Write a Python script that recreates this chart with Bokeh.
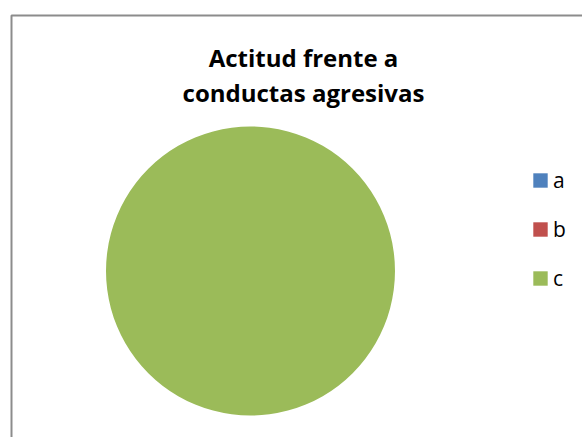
import numpy as np
from bokeh.plotting import figure
from bokeh.models import ColumnDataSource, Range1d, Label, Legend, LegendItem
from bokeh.embed import file_html
from bokeh.resources import INLINE

# Data
categories = ["a", "b", "c"]
values = [0, 0, 100]
colors = ["#4F81BD", "#C0504D", "#9BBB59"]
title_lines = ["Actitud frente a", "conductas agresivas"]

W, H = 582, 437
p = figure(width=W, height=H, output_backend="svg", toolbar_location=None,
           x_range=Range1d(0, W), y_range=Range1d(0, H),
           min_border=0, min_border_left=0, min_border_right=0,
           min_border_top=0, min_border_bottom=0)
p.axis.visible = False
p.grid.visible = False
p.outline_line_color = None
p.background_fill_color = "white"
p.border_fill_color = "white"

# chart area border (left and top edges visible)
p.line(x=[11, 11, W + 10], y=[-10, H - 15, H - 15], line_color="#8C8C8C",
       line_width=2)

R = 144.5
total = float(sum(values))
fr = np.array(values) / total
spans = np.minimum(2 * np.pi * fr, 2 * np.pi - 1e-4)
starts = np.pi / 2 - 2 * np.pi * np.concatenate([[0], np.cumsum(fr)[:-1]])
ends = starts - spans
radii = [R if v > 0 else 0 for v in values]
src = ColumnDataSource(dict(cat=categories, val=values, color=colors,
                            start=list(starts), end=list(ends), r=radii,
                            x=[250] * 3, y=[H - 270.5] * 3))
r = p.wedge(x="x", y="y", radius="r", radius_units="screen",
            start_angle="end", end_angle="start",
            fill_color="color", line_color=None, source=src)

items = [LegendItem(label=c, renderers=[r], index=i) for i, c in enumerate(categories)]
legend = Legend(items=items, location=(531, 145), orientation="vertical",
                glyph_width=18, glyph_height=18, label_standoff=4,
                label_text_font="Open Sans", label_text_font_size="21px",
                label_text_color="#000000", spacing=21, padding=0, margin=0,
                border_line_color=None, background_fill_alpha=0,
                label_height=14)
p.add_layout(legend)

for i, (t, yb) in enumerate(zip(title_lines, [H - 56.5, H - 91.5])):
    p.add_layout(Label(x=303, y=yb, x_units="screen", y_units="screen", text=t,
                       text_font="Open Sans", text_font_style="bold",
                       text_font_size="24px", text_align="center",
                       text_baseline="alphabetic", text_color="#000000"))

open("out.html", "w").write(file_html(p, INLINE))
